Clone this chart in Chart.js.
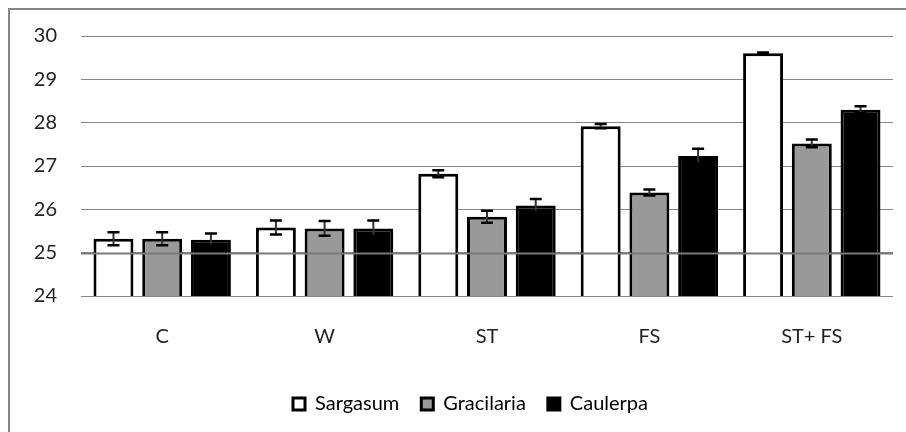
<!DOCTYPE html>
<html>
<head>
<meta charset="utf-8">
<script src="https://cdn.jsdelivr.net/npm/chart.js@4"></script>
<style>
  html, body { margin: 0; padding: 0; background: #fff; }
  #wrap { width: 906px; height: 432px; }
</style>
</head>
<body>
<div id="wrap"><canvas id="chart" width="906" height="432"></canvas></div>
<script>
const categories = ["C", "W", "ST", "FS", "ST+ FS"];
const sargasum = [25.32, 25.58, 26.82, 27.92, 29.6];
const gracilaria = [25.32, 25.56, 25.83, 26.39, 27.52];
const caulerpa = [25.3, 25.56, 26.09, 27.23, 28.3];
const sargasumErr = [0.15, 0.16, 0.08, 0.05, 0.02];
const gracilariaErr = [0.15, 0.17, 0.14, 0.07, 0.09];
const caulerpaErr = [0.14, 0.18, 0.15, 0.17, 0.08];
const yTicks = [24, 25, 26, 27, 28, 29, 30];

const GRID = "#868686";

// gray frame on the top and left edges, like the exported picture
const framePlugin = {
  id: "frame",
  beforeDraw(chart) {
    const ctx = chart.ctx;
    ctx.save();
    ctx.fillStyle = "#fff";
    ctx.fillRect(0, 0, chart.width, chart.height);
    ctx.strokeStyle = GRID;
    ctx.lineWidth = 2;
    ctx.beginPath();
    ctx.moveTo(9, chart.height);
    ctx.lineTo(9, 9);
    ctx.lineTo(chart.width, 9);
    ctx.stroke();
    ctx.restore();
  },
  // legend sits a little right of the centre in the original
  afterLayout(chart) {
    chart.legend.left += 24;
    chart.legend.right += 24;
  }
};

const errorBarPlugin = {
  id: "errorBars",
  afterDatasetsDraw(chart) {
    const ctx = chart.ctx;
    const y = chart.scales.y;
    ctx.save();
    chart.data.datasets.forEach((ds, i) => {
      const meta = chart.getDatasetMeta(i);
      meta.data.forEach((bar, j) => {
        const v = ds.data[j];
        const e = ds.errors[j];
        const top = y.getPixelForValue(v + e);
        const bot = y.getPixelForValue(v - e);
        const x = bar.x;
        ctx.strokeStyle = "#333";
        ctx.lineWidth = 2;
        ctx.beginPath();
        ctx.moveTo(x, top);
        ctx.lineTo(x, bot);
        ctx.stroke();
        ctx.lineWidth = 2.5;
        ctx.strokeStyle = "#000";
        ctx.beginPath();
        ctx.moveTo(x - 6, top);
        ctx.lineTo(x + 6, top);
        ctx.moveTo(x - 6, bot);
        ctx.lineTo(x + 6, bot);
        ctx.stroke();
      });
    });
    // the line at 25 shows across the bars
    const p = Math.round(y.getPixelForValue(25)) + 0.5;
    ctx.strokeStyle = "#7a7a7a";
    ctx.lineWidth = 2;
    ctx.beginPath();
    ctx.moveTo(chart.chartArea.left, p);
    ctx.lineTo(chart.chartArea.right, p);
    ctx.stroke();
    ctx.restore();
  }
};

Chart.defaults.font.family = "Lato, 'Open Sans', sans-serif";
Chart.defaults.color = "#222";

new Chart(document.getElementById("chart"), {
  type: "bar",
  data: {
    labels: categories,
    datasets: [
      { label: "Sargasum", data: sargasum, errors: sargasumErr, backgroundColor: "#ffffff", borderColor: "#000", borderWidth: 3 },
      { label: "Gracilaria", data: gracilaria, errors: gracilariaErr, backgroundColor: "#999999", borderColor: "#000", borderWidth: 3 },
      { label: "Caulerpa", data: caulerpa, errors: caulerpaErr, backgroundColor: "#000000", borderColor: "#000", borderWidth: 3 }
    ]
  },
  options: {
    responsive: false,
    animation: false,
    devicePixelRatio: 1,
    layout: { padding: { left: 0, top: 36, right: 13, bottom: 8 } },
    datasets: {
      bar: { categoryPercentage: 0.9, barPercentage: 0.82 }
    },
    scales: {
      y: {
        min: 24,
        max: 30,
        afterBuildTicks: scale => { scale.ticks = yTicks.map(v => ({ value: v })); },
        afterFit: scale => { scale.width = 81; },
        grid: { color: GRID, lineWidth: 1, drawTicks: false },
        border: { display: false },
        ticks: { padding: 24, font: { size: 20 }, color: "#222" }
      },
      x: {
        afterFit: scale => { scale.height = 76; },
        grid: { display: false },
        border: { display: false },
        ticks: { padding: 21, font: { size: 20 }, color: "#222" }
      }
    },
    plugins: {
      legend: {
        position: "bottom",
        labels: {
          boxWidth: 12,
          boxHeight: 12,
          padding: 22,
          font: { size: 20 },
          color: "#222",
          generateLabels: chart => chart.data.datasets.map((ds, i) => ({
            text: ds.label,
            fillStyle: ds.backgroundColor,
            strokeStyle: "#000",
            lineWidth: 3,
            datasetIndex: i
          }))
        }
      },
      tooltip: { enabled: false }
    }
  },
  plugins: [framePlugin, errorBarPlugin]
});
</script>
</body>
</html>
